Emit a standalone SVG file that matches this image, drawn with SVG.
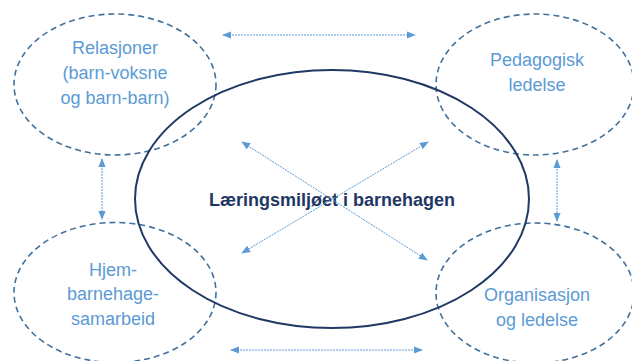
<svg xmlns="http://www.w3.org/2000/svg" width="632" height="361" viewBox="0 0 632 361">
<style>
.node{fill:none;stroke:#41719C;stroke-width:1.6;stroke-dasharray:6 4}
.lbl{font-family:"Liberation Sans",Arial,sans-serif;font-size:18px;fill:#5B9BD5;text-anchor:middle}
.main{fill:none;stroke:#1F3864;stroke-width:2}
.mlbl{font-family:"Liberation Sans",Arial,sans-serif;font-size:18px;font-weight:bold;fill:#1F3864;text-anchor:middle}
.conn{stroke:#5B9BD5;stroke-width:1;stroke-dasharray:2 1;fill:none;marker-start:url(#ah);marker-end:url(#ah)}
</style>
<defs>
<marker id="ah" viewBox="0 0 10 10" refX="9" refY="5" markerWidth="9" markerHeight="9" markerUnits="userSpaceOnUse" orient="auto-start-reverse">
<path d="M0,1 L10,5 L0,9 Z" fill="#5B9BD5"/>
</marker>
</defs>
<rect width="632" height="361" fill="#ffffff"/>
<g id="relasjoner">
<ellipse class="node" cx="115" cy="84.5" rx="101" ry="70.5"/>
<text class="lbl" x="115" y="54">Relasjoner</text>
<text class="lbl" x="115" y="79">(barn-voksne</text>
<text class="lbl" x="115" y="104">og barn-barn)</text>
</g>
<g id="pedagogisk">
<ellipse class="node" cx="535" cy="84.5" rx="99" ry="70.5"/>
<text class="lbl" x="537" y="66">Pedagogisk</text>
<text class="lbl" x="537" y="91">ledelse</text>
</g>
<g id="hjem">
<ellipse class="node" cx="115" cy="292.5" rx="101" ry="70"/>
<text class="lbl" x="113" y="276">Hjem-</text>
<text class="lbl" x="113" y="300">barnehage-</text>
<text class="lbl" x="113" y="325">samarbeid</text>
</g>
<g id="organisasjon">
<ellipse class="node" cx="535" cy="293" rx="99" ry="70"/>
<text class="lbl" x="537" y="301">Organisasjon</text>
<text class="lbl" x="537" y="326">og ledelse</text>
</g>
<g id="laeringsmiljo">
<ellipse class="main" cx="332" cy="199" rx="197" ry="129"/>
<text class="mlbl" x="332" y="206">Læringsmiljøet i barnehagen</text>
</g>
<g id="connectors">
<line class="conn" x1="223" y1="35" x2="415" y2="35"/>
<line class="conn" x1="231" y1="350" x2="422" y2="350"/>
<line class="conn" x1="102" y1="159" x2="102" y2="219"/>
<line class="conn" x1="557" y1="160" x2="557" y2="221"/>
<line class="conn" x1="242" y1="142" x2="427" y2="260"/>
<line class="conn" x1="428" y1="142" x2="242" y2="253"/>
</g>
</svg>
